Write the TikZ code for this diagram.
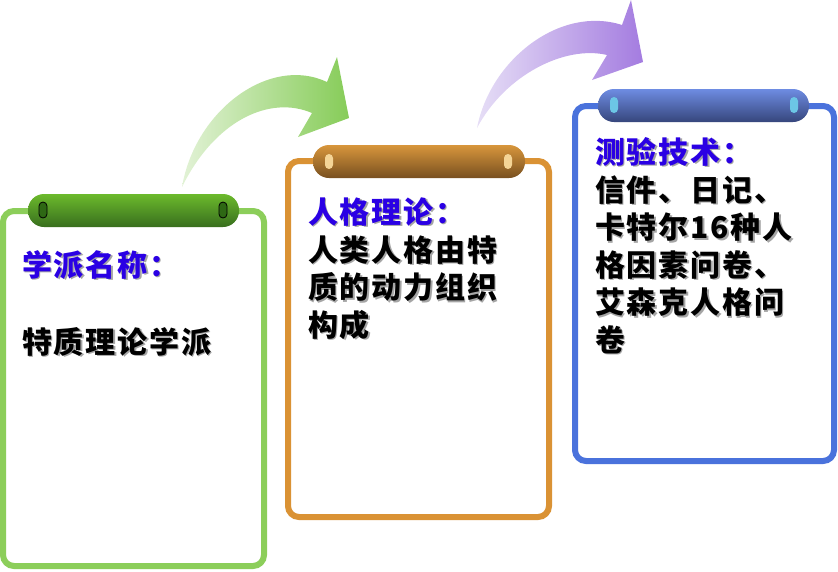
\documentclass[tikz,border=0pt]{standalone}
\usepackage{fontspec}
\newfontfamily\cjk{Noto Sans CJK SC}[LetterSpace=6]
\definecolor{titleblue}{RGB}{42,0,228}
\definecolor{gborder}{RGB}{140,206,90}
\definecolor{oborder}{RGB}{218,146,52}
\definecolor{bborder}{RGB}{74,114,220}
\definecolor{gtop}{RGB}{108,186,44}
\definecolor{gbot}{RGB}{56,110,30}
\definecolor{otop}{RGB}{216,150,60}
\definecolor{obot}{RGB}{120,80,32}
\definecolor{btop}{RGB}{110,140,226}
\definecolor{bbot}{RGB}{54,70,124}
\definecolor{gslot}{RGB}{46,104,20}
\definecolor{oslot}{RGB}{244,212,150}
\definecolor{bslot}{RGB}{108,198,230}
\definecolor{garrowL}{RGB}{226,242,214}
\definecolor{garrowR}{RGB}{134,204,88}
\definecolor{parrowL}{RGB}{230,222,246}
\definecolor{parrowR}{RGB}{164,124,224}
\definecolor{shadowgray}{RGB}{165,165,165}
\tikzset{
  card/.style={line width=6pt, rounded corners=11pt, fill=white},
  bar/.style={rounded corners=16pt},
  slot/.style={rounded corners=4pt},
  txt/.style={anchor=base west, inner sep=0pt, font=\cjk\bfseries\fontsize{30}{36}\selectfont},
}
\newcommand\shtxt[5]{%
  \node[txt,text=shadowgray] (#1s) at (#2+1.5,#3+1.5) {#5};
  \node[txt,text=#4] (#1) at (#2,#3) {#5};}
\begin{document}
\begin{tikzpicture}[x=1pt,y=-1pt]
\useasboundingbox (0,0) rectangle (838,571);
% arrows
\shade[left color=garrowL, right color=garrowR]
  (182,187) .. controls (195,110) and (270,55) .. (327,82)
  -- (337,57) -- (349,118) -- (298,137) -- (312,113)
  .. controls (270,95) and (215,120) .. (182,187) -- cycle;
\shade[left color=parrowL, right color=parrowR]
  (477,128) .. controls (490,60) and (560,5) .. (622,25)
  -- (631,0) -- (643,62) -- (592,80) -- (607,55)
  .. controls (565,45) and (505,75) .. (477,128) -- cycle;
% cards
\draw[card, draw=gborder] (3,211) rectangle (264,566);
\draw[card, draw=oborder] (288,161) rectangle (549,517);
\draw[card, draw=bborder] (575,106) rectangle (834,461);
% bars
\shade[bar, top color=gtop, bottom color=gbot] (28,194) rectangle (239,227);
\shade[bar, top color=otop, bottom color=obot] (313,145) rectangle (525,178);
\shade[bar, top color=btop, bottom color=bbot] (598,89) rectangle (809,122);
% slots
\filldraw[slot, fill=gslot, draw=black, line width=0.8pt] (39,202) rectangle (47,218);
\filldraw[slot, fill=gslot, draw=black, line width=0.8pt] (219,202) rectangle (227,218);
\fill[slot, oslot] (325,154) rectangle (333,169);
\fill[slot, oslot] (504,154) rectangle (512,169);
\fill[slot, bslot] (610,97) rectangle (618,113);
\fill[slot, bslot] (790,97) rectangle (798,113);
% texts
\shtxt{t1}{22}{276}{titleblue}{学派名称：}
\shtxt{b1}{22}{353}{black}{特质理论学派}
\shtxt{t2}{308}{223}{titleblue}{人格理论：}
\shtxt{b2a}{308}{261}{black}{人类人格由特}
\shtxt{b2b}{308}{298.5}{black}{质的动力组织}
\shtxt{b2c}{308}{336}{black}{构成}
\shtxt{t3}{595}{163}{titleblue}{测验技术：}
\shtxt{b3a}{595}{201}{black}{信件、日记、}
\shtxt{b3b}{595}{238.5}{black}{卡特尔16种人}
\shtxt{b3c}{595}{276}{black}{格因素问卷、}
\shtxt{b3d}{595}{313.5}{black}{艾森克人格问}
\shtxt{b3e}{595}{351}{black}{卷}
\end{tikzpicture}
\end{document}
